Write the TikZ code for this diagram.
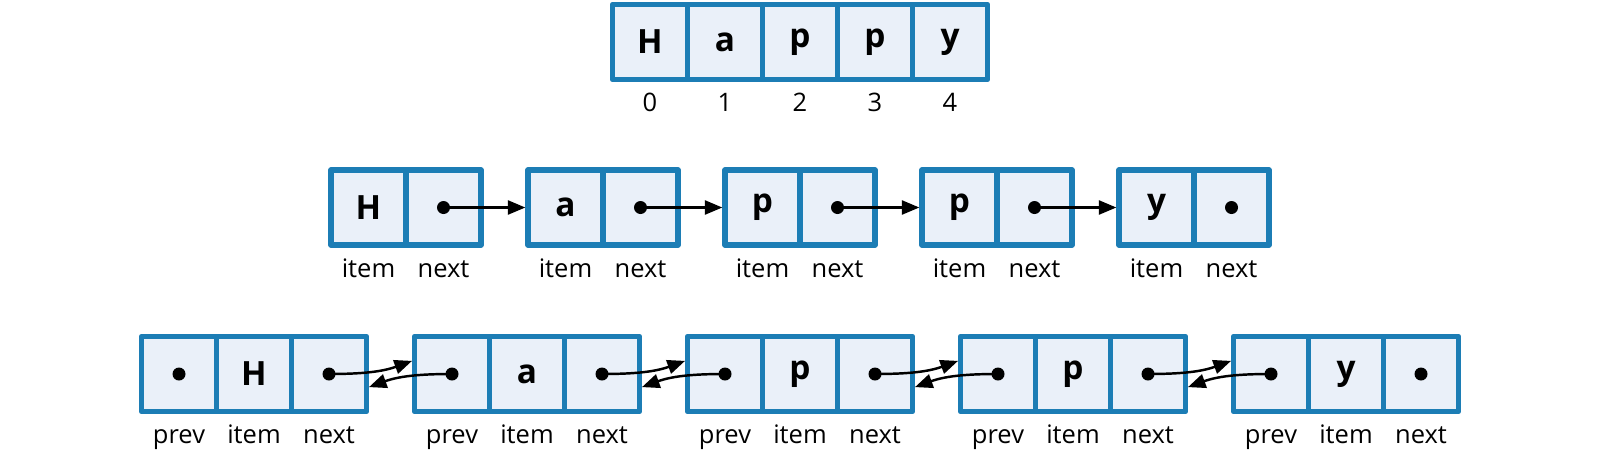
\documentclass[tikz,border=0pt]{standalone}
\usepackage{fontspec}
\setmainfont{Open Sans}
\usetikzlibrary{arrows.meta, positioning}
\usepackage{xcolor}
\definecolor{boxblue}{RGB}{28,125,181}
\definecolor{boxfill}{RGB}{234,240,249}

\begin{document}
\begin{tikzpicture}[
>={Triangle[length=10pt,width=8pt]},
cell/.style={draw=boxblue, fill=boxfill, line width=3pt, line join=round,
  minimum width=1.5cm, minimum height=1.5cm, inner sep=0pt, outer sep=0pt,
  font=\fontsize{19}{21}\selectfont\bfseries},
lbl/.style={font=\fontsize{14.5}{16}\selectfont, inner sep=0pt, anchor=base},
label distance=0.64cm,
itemcell/.style={cell, label={[lbl]below:item}},
nextcell/.style={cell, label={[lbl]below:next}},
prevcell/.style={cell, label={[lbl]below:prev}},
link/.style={->, line width=1.4pt, shorten >=1.5pt},
]
\useasboundingbox (0,-9) rectangle (32,0);

%% array
% cells
\node[cell, label={[lbl]below:0}] (A0) at (13,-0.84) {H};
\node[cell, label={[lbl]below:1}, right=0pt of A0] (A1) {a};
\node[cell, label={[lbl]below:2}, right=0pt of A1] (A2) {p};
\node[cell, label={[lbl]below:3}, right=0pt of A2] (A3) {p};
\node[cell, label={[lbl]below:4}, right=0pt of A3] (A4) {y};

%% singly linked list
% nodes
\node[itemcell] (SI1) at (7.37,-4.15) {H};
\node[nextcell, right=0pt of SI1] (SN1) {};
\node[itemcell] (SI2) at (11.31,-4.15) {a};
\node[nextcell, right=0pt of SI2] (SN2) {};
\node[itemcell] (SI3) at (15.25,-4.15) {p};
\node[nextcell, right=0pt of SI3] (SN3) {};
\node[itemcell] (SI4) at (19.19,-4.15) {p};
\node[nextcell, right=0pt of SI4] (SN4) {};
\node[itemcell] (SI5) at (23.13,-4.15) {y};
\node[nextcell, right=0pt of SI5] (SN5) {};
% arrows
\draw[link] (SN1.center) -- (SI2.west);
\draw[link] (SN2.center) -- (SI3.west);
\draw[link] (SN3.center) -- (SI4.west);
\draw[link] (SN4.center) -- (SI5.west);
\fill (SN1) circle (0.13) (SN2) circle (0.13) (SN3) circle (0.13)
  (SN4) circle (0.13) (SN5) circle (0.13);

%% doubly linked list
% nodes
\node[prevcell] (DP1) at (3.58,-7.48) {};
\node[itemcell, right=0pt of DP1] (DI1) {H};
\node[nextcell, right=0pt of DI1] (DN1) {};
\node[prevcell] (DP2) at (9.04,-7.48) {};
\node[itemcell, right=0pt of DP2] (DI2) {a};
\node[nextcell, right=0pt of DI2] (DN2) {};
\node[prevcell] (DP3) at (14.5,-7.48) {};
\node[itemcell, right=0pt of DP3] (DI3) {p};
\node[nextcell, right=0pt of DI3] (DN3) {};
\node[prevcell] (DP4) at (19.96,-7.48) {};
\node[itemcell, right=0pt of DP4] (DI4) {p};
\node[nextcell, right=0pt of DI4] (DN4) {};
\node[prevcell] (DP5) at (25.42,-7.48) {};
\node[itemcell, right=0pt of DP5] (DI5) {y};
\node[nextcell, right=0pt of DI5] (DN5) {};
% arrows
\draw[link] (DN1.center) to[out=0,in=200] ([yshift=2.8mm]DP2.west);
\draw[link] (DP2.center) to[out=180,in=20] ([yshift=-2.8mm]DN1.east);
\draw[link] (DN2.center) to[out=0,in=200] ([yshift=2.8mm]DP3.west);
\draw[link] (DP3.center) to[out=180,in=20] ([yshift=-2.8mm]DN2.east);
\draw[link] (DN3.center) to[out=0,in=200] ([yshift=2.8mm]DP4.west);
\draw[link] (DP4.center) to[out=180,in=20] ([yshift=-2.8mm]DN3.east);
\draw[link] (DN4.center) to[out=0,in=200] ([yshift=2.8mm]DP5.west);
\draw[link] (DP5.center) to[out=180,in=20] ([yshift=-2.8mm]DN4.east);
\fill (DP1) circle (0.13) (DN1) circle (0.13) (DP2) circle (0.13)
  (DN2) circle (0.13) (DP3) circle (0.13) (DN3) circle (0.13)
  (DP4) circle (0.13) (DN4) circle (0.13) (DP5) circle (0.13)
  (DN5) circle (0.13);
\end{tikzpicture}
\end{document}
